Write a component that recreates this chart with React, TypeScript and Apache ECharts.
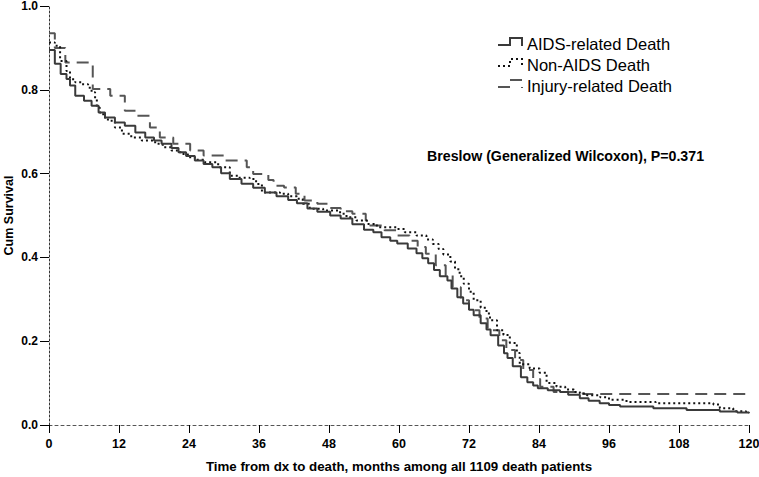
import React, { useEffect, useRef } from "react";
import * as echarts from "echarts";

// Kaplan-Meier step points (months, cumulative survival)
const aidsTime = [0, 1, 2, 3, 3.6, 4.5, 6, 7.3, 8.5, 9.6, 11.3, 13, 14.8, 16.5, 18, 19.3, 21, 22.2, 23.5, 25, 26.5, 28, 29.5, 31, 33, 35, 37, 39, 41, 42.5, 44.3, 46, 48.2, 50, 52, 54, 55.6, 57, 58.5, 59.7, 61.5, 63, 64, 65, 66, 67, 68.3, 69, 70, 71, 72, 72.8, 74, 75, 75.7, 77, 78, 78.6, 79.5, 80.9, 82, 83, 83.8, 85.5, 87.6, 89, 91, 92.5, 94.4, 96, 97.9, 103.6, 109.3, 115, 118, 120];
const aidsSurv = [0.895, 0.862, 0.838, 0.826, 0.81, 0.786, 0.774, 0.762, 0.746, 0.734, 0.722, 0.714, 0.698, 0.686, 0.679, 0.671, 0.661, 0.651, 0.642, 0.631, 0.623, 0.615, 0.601, 0.587, 0.576, 0.566, 0.555, 0.546, 0.537, 0.529, 0.517, 0.509, 0.5, 0.493, 0.479, 0.466, 0.46, 0.448, 0.44, 0.433, 0.421, 0.41, 0.398, 0.386, 0.37, 0.355, 0.345, 0.326, 0.305, 0.29, 0.275, 0.262, 0.243, 0.228, 0.214, 0.19, 0.171, 0.16, 0.14, 0.114, 0.102, 0.094, 0.088, 0.083, 0.079, 0.072, 0.064, 0.058, 0.052, 0.048, 0.044, 0.04, 0.036, 0.032, 0.03, 0.028];

const nonAidsTime = [0, 1, 1.9, 3, 3.6, 4.5, 5.6, 6.7, 7.3, 7.9, 8.2, 8.7, 9.3, 10.1, 11.3, 12.5, 14.1, 15.9, 18.2, 19.5, 21, 22.5, 23.8, 25, 26.7, 29, 31, 32.5, 34.4, 35.5, 36.5, 39.6, 41, 42.5, 43.5, 44.7, 47, 49.9, 51, 52.7, 54.5, 56.2, 59.6, 61, 63, 64.7, 65.8, 66.8, 67.6, 68.8, 69.6, 70.4, 71.1, 72, 72.8, 74, 75, 75.6, 76.8, 77.9, 79, 80.2, 80.7, 82.4, 84.1, 85.3, 87, 88.5, 90, 91, 92.2, 94.5, 96, 99, 104, 113.9, 115, 117.3, 119.5, 120];
const nonAidsSurv = [0.913, 0.905, 0.869, 0.845, 0.825, 0.818, 0.813, 0.805, 0.794, 0.778, 0.758, 0.746, 0.734, 0.726, 0.71, 0.695, 0.686, 0.679, 0.671, 0.663, 0.655, 0.647, 0.639, 0.633, 0.627, 0.615, 0.595, 0.59, 0.587, 0.575, 0.555, 0.552, 0.546, 0.54, 0.528, 0.516, 0.512, 0.504, 0.496, 0.488, 0.48, 0.472, 0.468, 0.46, 0.452, 0.443, 0.432, 0.42, 0.407, 0.39, 0.372, 0.355, 0.337, 0.318, 0.298, 0.28, 0.266, 0.25, 0.226, 0.215, 0.196, 0.172, 0.145, 0.135, 0.125, 0.1, 0.091, 0.085, 0.079, 0.075, 0.071, 0.066, 0.06, 0.055, 0.052, 0.049, 0.04, 0.033, 0.029, 0.028];

const injuryTime = [0, 1, 2.8, 7.5, 10.5, 13, 15, 17.3, 19, 21.3, 24.2, 26.5, 30, 33.9, 35, 37.6, 38.5, 40.3, 42.3, 43.8, 46, 48, 50, 52, 54.3, 55, 57.5, 59.5, 61.8, 63.2, 64.6, 66.3, 68, 69.2, 70.6, 72, 73.8, 75.2, 77.2, 78.4, 79.9, 81.3, 83, 84.2, 86.5, 91.5, 120];
const injurySurv = [0.935, 0.9, 0.865, 0.802, 0.786, 0.75, 0.738, 0.71, 0.686, 0.671, 0.655, 0.643, 0.631, 0.615, 0.599, 0.585, 0.571, 0.567, 0.552, 0.536, 0.528, 0.518, 0.51, 0.504, 0.488, 0.476, 0.465, 0.452, 0.44, 0.425, 0.409, 0.381, 0.357, 0.329, 0.298, 0.274, 0.254, 0.226, 0.202, 0.179, 0.155, 0.131, 0.11, 0.091, 0.079, 0.074, 0.074];

const seriesNames = ["AIDS-related Death", "Non-AIDS Death", "Injury-related Death"];
const testLabel = "Breslow (Generalized Wilcoxon), P=0.371";
const xTitle = "Time from dx to death, months among all 1109 death patients";
const yTitle = "Cum Survival";

const FONT = "'Liberation Sans', Arial, sans-serif";

const pairs = (t: number[], s: number[]) => t.map((v, i) => [v, s[i]]);

export default function App() {
  const ref = useRef<HTMLDivElement>(null);
  useEffect(() => {
    const chart = echarts.init(ref.current!, null, { renderer: "svg" });
    const styles = [
      { color: "#3a3a3a", width: 2, type: "solid" as any },
      { color: "#111111", width: 2, type: [2, 3] as any },
      { color: "#555555", width: 2, type: [12, 7] as any },
    ];
    const data = [
      pairs(aidsTime, aidsSurv),
      pairs(nonAidsTime, nonAidsSurv),
      pairs(injuryTime, injurySurv),
    ];
    const legendY = [44, 65, 86];
    const legendGraphics: any[] = [];
    seriesNames.forEach((name, i) => {
      const y = legendY[i];
      legendGraphics.push({
        type: "polyline",
        shape: { points: [[498, y + 1], [510, y + 1], [510, y - 6], [522, y - 6], [522, y + 2]] },
        style: { stroke: styles[i].color, lineWidth: 2, lineDash: i === 0 ? null : (styles[i].type as any), fill: null },
      });
      legendGraphics.push({
        type: "text",
        x: 527,
        y,
        style: { text: name, fontSize: 16.5, fontFamily: FONT, fill: "#000", verticalAlign: "middle", align: "left" },
      });
    });
    chart.setOption({
      animation: false,
      backgroundColor: "#fff",
      grid: { left: 49, right: 10, top: 6, bottom: 52, containLabel: false, outerBoundsMode: "none" },
      xAxis: {
        type: "value",
        min: 0,
        max: 120,
        interval: 12,
        name: xTitle,
        nameLocation: "middle",
        nameGap: 35,
        nameTextStyle: { fontFamily: FONT, fontWeight: "bold", fontSize: 13.3, color: "#000" },
        axisLine: { show: true, onZero: false, lineStyle: { color: "#555", type: [3, 3], width: 1 } },
        axisTick: { show: true, length: 8, lineStyle: { color: "#000", width: 1 } },
        axisLabel: { margin: 12, fontFamily: FONT, fontWeight: "bold", fontSize: 12.5, color: "#000" },
        splitLine: { show: false },
      },
      yAxis: {
        type: "value",
        min: 0,
        max: 1,
        interval: 0.2,
        name: yTitle,
        nameLocation: "middle",
        nameGap: 34,
        nameMoveOverlap: false,
        nameTextStyle: { fontFamily: FONT, fontWeight: "bold", fontSize: 12.5, color: "#000" },
        axisLine: { show: true, onZero: false, lineStyle: { color: "#333", type: [2, 2], width: 1 } },
        axisTick: { show: true, length: 9, lineStyle: { color: "#000", width: 1 } },
        axisLabel: { margin: 11, fontFamily: FONT, fontWeight: "bold", fontSize: 12, color: "#000", formatter: (v: number) => v.toFixed(1) },
        splitLine: { show: false },
      },
      series: seriesNames.map((name, i) => ({
        name,
        type: "line",
        step: "end",
        showSymbol: false,
        symbol: "none",
        data: data[i],
        lineStyle: styles[i],
        z: 3 - i,
      })),
      graphic: [
        ...legendGraphics,
        {
          type: "text",
          x: 427,
          y: 156,
          style: { text: testLabel, fontSize: 14.2, fontWeight: "bold", fontFamily: FONT, fill: "#000", verticalAlign: "middle", align: "left" },
        },
      ],
    });
    return () => chart.dispose();
  }, []);
  return (
    <div
      ref={ref}
      style={{ position: "fixed", left: 0, top: 0, width: 759, height: 477, background: "#fff" }}
    />
  );
}
